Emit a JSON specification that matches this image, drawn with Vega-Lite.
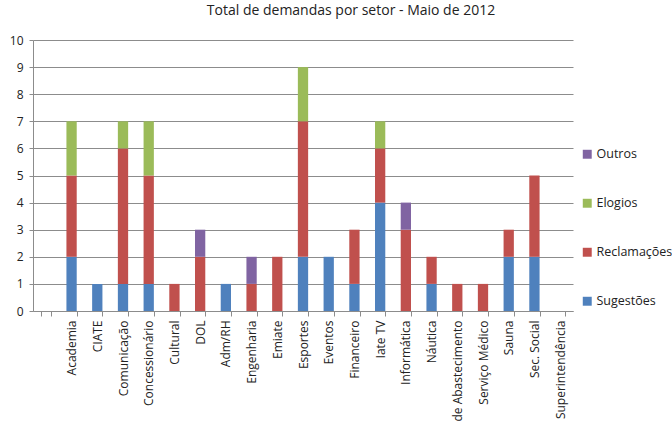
{
  "$schema": "https://vega.github.io/schema/vega-lite/v6.json",
  "autosize": {"type": "none"},
  "width": 540,
  "height": 271,
  "padding": {"left": 33, "top": 40, "right": 99, "bottom": 114},
  "background": "white",
  "title": {
    "text": "Total de demandas por setor - Maio de 2012",
    "font": "Open Sans",
    "fontSize": 14,
    "fontWeight": "normal",
    "color": "#222222",
    "anchor": "middle",
    "dx": 48,
    "offset": 16
  },
  "data": {
    "values": [
      {"setor": "Academia", "tipo": "Sugestões", "qtd": 2},
      {"setor": "Academia", "tipo": "Reclamações", "qtd": 3},
      {"setor": "Academia", "tipo": "Elogios", "qtd": 2},
      {"setor": "CIATE", "tipo": "Sugestões", "qtd": 1},
      {"setor": "Comunicação", "tipo": "Sugestões", "qtd": 1},
      {"setor": "Comunicação", "tipo": "Reclamações", "qtd": 5},
      {"setor": "Comunicação", "tipo": "Elogios", "qtd": 1},
      {"setor": "Concessionário", "tipo": "Sugestões", "qtd": 1},
      {"setor": "Concessionário", "tipo": "Reclamações", "qtd": 4},
      {"setor": "Concessionário", "tipo": "Elogios", "qtd": 2},
      {"setor": "Cultural", "tipo": "Reclamações", "qtd": 1},
      {"setor": "DOL", "tipo": "Reclamações", "qtd": 2},
      {"setor": "DOL", "tipo": "Outros", "qtd": 1},
      {"setor": "Adm/RH", "tipo": "Sugestões", "qtd": 1},
      {"setor": "Engenharia", "tipo": "Reclamações", "qtd": 1},
      {"setor": "Engenharia", "tipo": "Outros", "qtd": 1},
      {"setor": "Emiate", "tipo": "Reclamações", "qtd": 2},
      {"setor": "Esportes", "tipo": "Sugestões", "qtd": 2},
      {"setor": "Esportes", "tipo": "Reclamações", "qtd": 5},
      {"setor": "Esportes", "tipo": "Elogios", "qtd": 2},
      {"setor": "Eventos", "tipo": "Sugestões", "qtd": 2},
      {"setor": "Financeiro", "tipo": "Sugestões", "qtd": 1},
      {"setor": "Financeiro", "tipo": "Reclamações", "qtd": 2},
      {"setor": "Iate TV", "tipo": "Sugestões", "qtd": 4},
      {"setor": "Iate TV", "tipo": "Reclamações", "qtd": 2},
      {"setor": "Iate TV", "tipo": "Elogios", "qtd": 1},
      {"setor": "Informática", "tipo": "Reclamações", "qtd": 3},
      {"setor": "Informática", "tipo": "Outros", "qtd": 1},
      {"setor": "Náutica", "tipo": "Sugestões", "qtd": 1},
      {"setor": "Náutica", "tipo": "Reclamações", "qtd": 1},
      {"setor": "Posto de Abastecimento", "tipo": "Reclamações", "qtd": 1},
      {"setor": "Serviço Médico", "tipo": "Reclamações", "qtd": 1},
      {"setor": "Sauna", "tipo": "Sugestões", "qtd": 2},
      {"setor": "Sauna", "tipo": "Reclamações", "qtd": 1},
      {"setor": "Sec. Social", "tipo": "Sugestões", "qtd": 2},
      {"setor": "Sec. Social", "tipo": "Reclamações", "qtd": 3},
      {"setor": "Superintendência", "tipo": "Sugestões", "qtd": 0}
    ]
  },
  "mark": {"type": "bar"},
  "encoding": {
    "x": {
      "field": "setor",
      "type": "nominal",
      "scale": {
        "domain": [" ", "Academia", "CIATE", "Comunicação", "Concessionário", "Cultural", "DOL", "Adm/RH", "Engenharia", "Emiate", "Esportes", "Eventos", "Financeiro", "Iate TV", "Informática", "Náutica", "Posto de Abastecimento", "Serviço Médico", "Sauna", "Sec. Social", "Superintendência"],
        "paddingInner": 0.6,
        "paddingOuter": 0.3
      },
      "axis": {
        "title": null,
        "labelAngle": -90,
        "labelFont": "Open Sans",
        "labelFontSize": 12,
        "labelColor": "#222222",
        "labelPadding": 4,
        "labelLimit": 300,
        "tickBand": "extent",
        "tickColor": "#8c8c8c",
        "tickSize": 5,
        "domainColor": "#8c8c8c",
        "grid": false
      }
    },
    "y": {
      "field": "qtd",
      "type": "quantitative",
      "aggregate": "sum",
      "stack": "zero",
      "scale": {"domain": [0, 10], "nice": false},
      "axis": {
        "title": null,
        "values": [0, 1, 2, 3, 4, 5, 6, 7, 8, 9, 10],
        "labelFont": "Open Sans",
        "labelFontSize": 12,
        "labelColor": "#222222",
        "labelPadding": 6,
        "tickColor": "#8c8c8c",
        "tickSize": 4,
        "domainColor": "#8c8c8c",
        "gridColor": "#8c8c8c",
        "gridWidth": 1
      }
    },
    "color": {
      "field": "tipo",
      "type": "nominal",
      "sort": ["Sugestões", "Reclamações", "Elogios", "Outros"],
      "scale": {
        "domain": ["Sugestões", "Reclamações", "Elogios", "Outros"],
        "range": ["#4F81BD", "#C0504D", "#9BBB59", "#8064A2"]
      },
      "legend": {
        "title": null,
        "values": ["Outros", "Elogios", "Reclamações", "Sugestões"],
        "orient": "none",
        "legendX": 548,
        "legendY": 108,
        "symbolType": "square",
        "symbolSize": 80,
        "symbolStrokeWidth": 0,
        "labelFont": "Open Sans",
        "labelFontSize": 12.5,
        "labelColor": "#222222",
        "labelOffset": 3,
        "rowPadding": 36
      }
    }
  },
  "config": {
    "view": {"stroke": null}
  }
}
